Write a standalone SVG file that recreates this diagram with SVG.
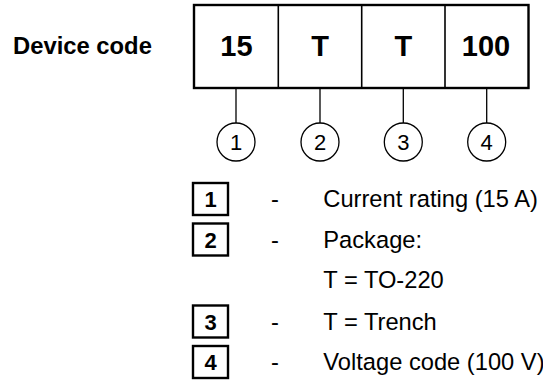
<svg xmlns="http://www.w3.org/2000/svg" width="543" height="382" viewBox="0 0 543 382">
<style>
.bold{font-family:"Liberation Sans",Arial,sans-serif;font-weight:bold;fill:#000}
.reg{font-family:"Liberation Sans",Arial,sans-serif;fill:#000}
.cell{font-size:29px;text-anchor:middle}
.circ{fill:#fff;stroke:#000;stroke-width:1.3}
.cnum{font-size:22px;text-anchor:middle}
.lbox{fill:#fff;stroke:#000;stroke-width:2.4}
.lnum{font-size:22px;text-anchor:middle}
.ltxt{font-size:23.7px}
.conn{stroke:#000;stroke-width:1.3;fill:none}
</style>
<text class="bold" x="13" y="54.3" font-size="23.8">Device code</text>
<g id="code">
<rect x="194" y="5" width="334.5" height="83" fill="#fff" stroke="#000" stroke-width="2.4"/>
<line x1="278.3" y1="5" x2="278.3" y2="88" stroke="#000" stroke-width="1.6"/>
<line x1="361.7" y1="5" x2="361.7" y2="88" stroke="#000" stroke-width="1.6"/>
<line x1="445" y1="5" x2="445" y2="88" stroke="#000" stroke-width="1.6"/>
<text class="bold cell" x="236.5" y="55.5">15</text>
<text class="bold cell" x="320" y="55.5">T</text>
<text class="bold cell" x="403.3" y="55.5">T</text>
<text class="bold cell" x="486" y="55.5">100</text>
</g>
<g id="connectors">
<line class="conn" x1="236" y1="89" x2="236" y2="123"/>
<line class="conn" x1="320" y1="89" x2="320" y2="123"/>
<line class="conn" x1="403.3" y1="89" x2="403.3" y2="123"/>
<line class="conn" x1="486.7" y1="89" x2="486.7" y2="123"/>
</g>
<g id="c1"><circle class="circ" cx="236" cy="142" r="19"/><text class="reg cnum" x="236" y="150">1</text></g>
<g id="c2"><circle class="circ" cx="320" cy="142" r="19"/><text class="reg cnum" x="320" y="150">2</text></g>
<g id="c3"><circle class="circ" cx="403.3" cy="142" r="19"/><text class="reg cnum" x="403.3" y="150">3</text></g>
<g id="c4"><circle class="circ" cx="486.7" cy="142" r="19"/><text class="reg cnum" x="486.7" y="150">4</text></g>
<g id="legend1">
<rect class="lbox" x="193" y="183" width="35" height="32"/>
<text class="bold lnum" x="210.5" y="207">1</text>
<text class="reg ltxt" x="275" y="207" text-anchor="middle">-</text>
<text class="reg ltxt" x="323.3" y="207">Current rating (15 A)</text>
</g>
<g id="legend2">
<rect class="lbox" x="193" y="223.5" width="35" height="32"/>
<text class="bold lnum" x="210.5" y="247.5">2</text>
<text class="reg ltxt" x="275" y="247.5" text-anchor="middle">-</text>
<text class="reg ltxt" x="323.3" y="247.5">Package:</text>
<text class="reg ltxt" x="323.3" y="288">T = TO-220</text>
</g>
<g id="legend3">
<rect class="lbox" x="193" y="305.5" width="35" height="32"/>
<text class="bold lnum" x="210.5" y="329.5">3</text>
<text class="reg ltxt" x="275" y="329.5" text-anchor="middle">-</text>
<text class="reg ltxt" x="323.3" y="329.5">T = Trench</text>
</g>
<g id="legend4">
<rect class="lbox" x="193" y="346" width="35" height="32"/>
<text class="bold lnum" x="210.5" y="370">4</text>
<text class="reg ltxt" x="275" y="370" text-anchor="middle">-</text>
<text class="reg ltxt" x="323.3" y="370">Voltage code (100 V)</text>
</g>
</svg>
